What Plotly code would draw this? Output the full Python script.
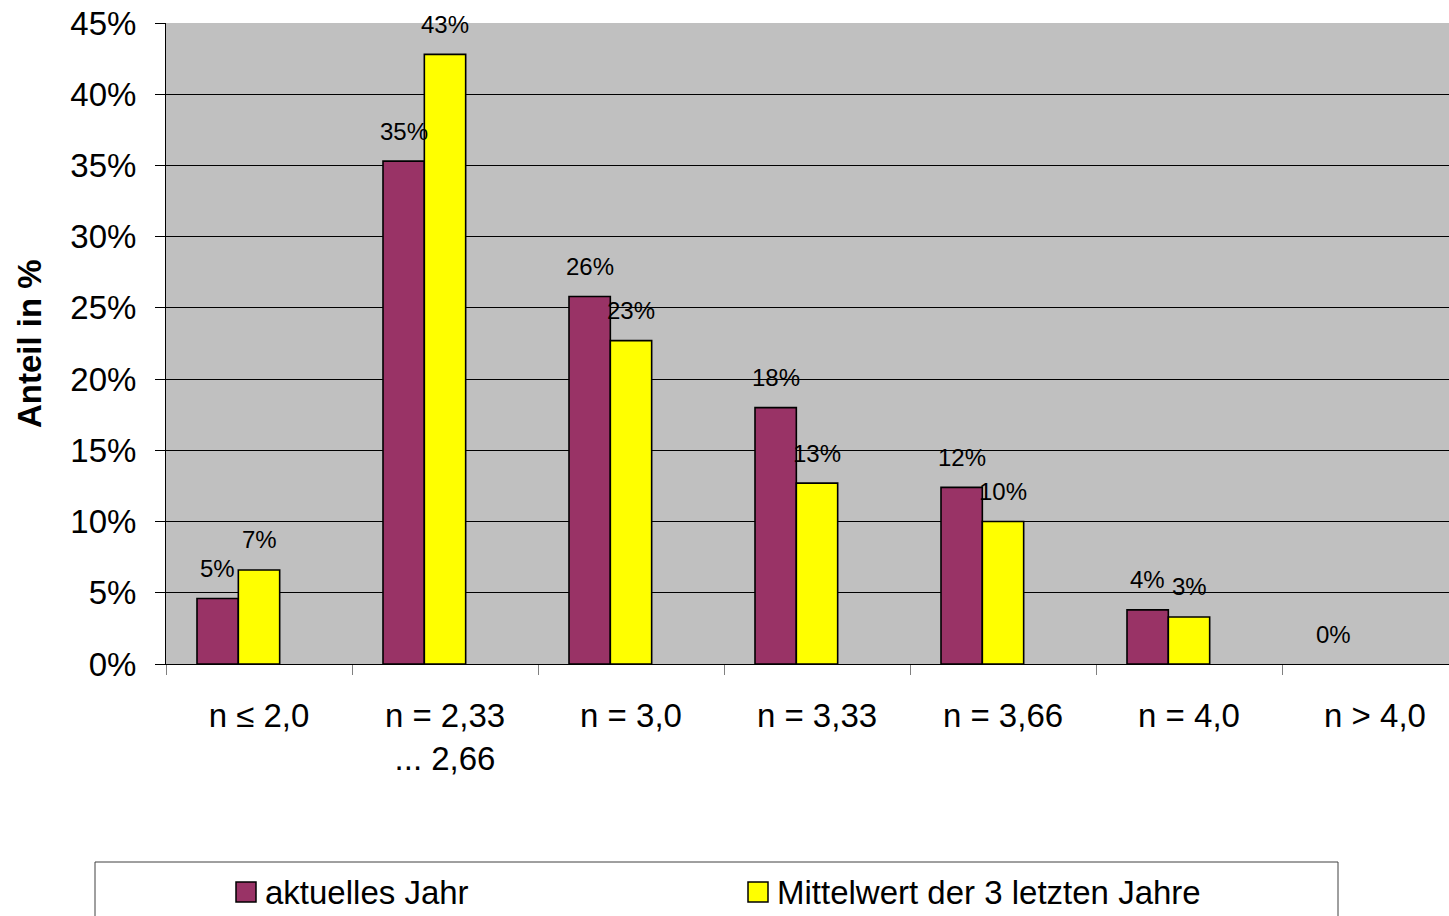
import plotly.graph_objects as go

# ---- data -------------------------------------------------------------
categories = ["n ≤ 2,0", "n = 2,33<br>... 2,66", "n = 3,0", "n = 3,33",
              "n = 3,66", "n = 4,0", "n > 4,0"]
aktuelles_jahr = [4.6, 35.3, 25.8, 18.0, 12.4, 3.8, 0.0]
mittelwert_3_jahre = [6.6, 42.8, 22.7, 12.7, 10.0, 3.3, None]
series_names = ["aktuelles Jahr", "Mittelwert der 3 letzten Jahre"]
y_tick_values = [0, 5, 10, 15, 20, 25, 30, 35, 40, 45]
y_title = "Anteil in %"

# ---- geometry / style -------------------------------------------------
W, H = 1449, 916
PLOT_L, PLOT_R, PLOT_T, PLOT_B = 166, 1449, 23, 664   # target, in window px
L, R, T, B = PLOT_L, W - PLOT_R, PLOT_T, H - PLOT_B
PW, PH = PLOT_R - PLOT_L, PLOT_B - PLOT_T
FONT = "Arial, Liberation Sans, sans-serif"
colors = ["#993366", "#FFFF00"]
bar_w = 2 / 9            # gap width 150 % with three slots per group
offsets = [-1.5 * bar_w, -0.5 * bar_w]
CAT_PX = 186             # pixels per category in the reference
x_range = [-0.5, -0.5 + PW / CAT_PX]


def px_x(px):
    return (px - PLOT_L) / PW


def px_y(py):
    return (PLOT_B - py) / PH


fig = go.Figure()
for name, vals, col, off in zip(series_names, [aktuelles_jahr, mittelwert_3_jahre],
                                colors, offsets):
    fig.add_trace(go.Bar(
        x=categories, y=vals, name=name, width=bar_w, offset=off,
        marker=dict(color=col,
                    line=dict(color="black",
                              width=[1.6 if (v or 0) > 0 else 0 for v in vals])),
        showlegend=False, hoverinfo="skip",
    ))

annotations = []
for vals, off in zip([aktuelles_jahr, mittelwert_3_jahre], offsets):
    for i, v in enumerate(vals):
        if v is None:
            continue
        annotations.append(dict(
            x=i + off + bar_w / 2, y=v, xref="x", yref="y",
            text=f"{v:.0f}%", showarrow=False, yshift=30,
            font=dict(family=FONT, size=24, color="black"),
        ))

# y-axis title
annotations.append(dict(
    x=px_x(29), y=px_y(344), xref="paper", yref="paper",
    text=f"<b>{y_title}</b>", textangle=-90, showarrow=False,
    xanchor="center", yanchor="middle",
    font=dict(family=FONT, size=33, color="black"),
))

# legend (drawn by hand to match the framed legend box)
shapes = [dict(type="rect", xref="paper", yref="paper",
               x0=px_x(95), x1=px_x(1338), y0=px_y(950), y1=px_y(862),
               line=dict(color="#404040", width=1), fillcolor="white", layer="below")]
legend_x = [236, 748]
for name, col, lx in zip(series_names, colors, legend_x):
    shapes.append(dict(type="rect", xref="paper", yref="paper",
                       x0=px_x(lx), x1=px_x(lx + 20), y0=px_y(902), y1=px_y(882),
                       line=dict(color="black", width=1.5), fillcolor=col))
    annotations.append(dict(
        x=px_x(lx + 27), y=px_y(892), xref="paper", yref="paper",
        xanchor="left", yanchor="middle", text=name, showarrow=False,
        font=dict(family=FONT, size=33, color="black"),
    ))

fig.update_layout(
    width=W, height=H,
    margin=dict(l=L, r=R, t=T, b=B, autoexpand=False),
    paper_bgcolor="white", plot_bgcolor="#C0C0C0",
    barmode="overlay",
    font=dict(family=FONT, color="black"),
    annotations=annotations, shapes=shapes,
    showlegend=False,
)
fig.update_xaxes(
    type="category", range=x_range,
    tickson="boundaries", ticks="outside", ticklen=10, tickcolor="#808080",
    tickfont=dict(family=FONT, size=33, color="black"),
    ticklabelstandoff=22,
    showline=True, linecolor="black", linewidth=1,
    showgrid=False, automargin=False,
)
fig.update_yaxes(
    range=[0, 45], tickvals=y_tick_values,
    ticktext=[f"{v}%" for v in y_tick_values],
    ticks="outside", ticklen=10, tickcolor="black",
    tickfont=dict(family=FONT, size=33, color="black"),
    ticklabelstandoff=12, ticklabeloverflow="allow",
    showline=True, linecolor="black", linewidth=1,
    showgrid=True, gridcolor="black", gridwidth=1,
    zeroline=False, automargin=False,
)

fig.write_html("out.html",
               config={"displayModeBar": False},
               post_script="document.body.style.margin='0';"
                           "document.body.style.overflow='hidden';")
